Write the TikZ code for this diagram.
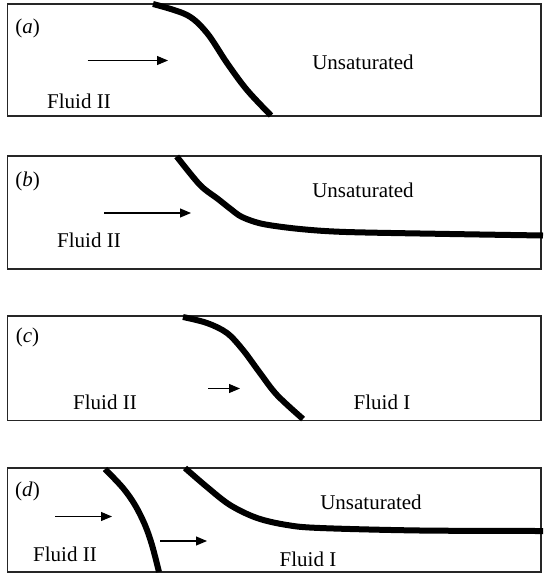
\documentclass[tikz,border=0pt]{standalone}
\usepackage{fontspec}
\setmainfont{Liberation Serif}
\usetikzlibrary{arrows.meta}
\begin{document}
\begin{tikzpicture}[x=0.5pt,y=-0.5pt,
  panel/.style={draw=black!85,line width=0.6pt},
  front/.style={line width=3pt,black},
  flow/.style={line width=0.55pt,-{Triangle[length=5.5pt,width=4.5pt]}},
  lbl/.style={font=\fontsize{10.5pt}{12pt}\selectfont,inner sep=0pt,anchor=base}]
\useasboundingbox (0,0) rectangle (543,574);
% panels
\draw[panel] (7.5,4) rectangle (541,116);
\draw[panel] (7.5,156) rectangle (541,269);
\draw[panel] (7.5,316) rectangle (541,420.5);
\draw[panel] (7.5,468) rectangle (541,572);
% (a)
\node[lbl] (la) at (27.5,33) {(\textit{a})};
\node[lbl] (ua) at (363,69) {Unsaturated};
\node[lbl] (fa) at (79,108) {Fluid II};
\coordinate (a1) at (87.5,60.5); \coordinate (a2) at (168,60.5);
\draw[flow] (a1) -- (a2);
\draw[front] plot[smooth,tension=0.55] coordinates {(153,4) (187,15) (207,33) (227,63) (247,90) (271,115.5)};
% (b)
\node[lbl] (lb) at (27.5,186) {(\textit{b})};
\node[lbl] (ub) at (363,197.5) {Unsaturated};
\node[lbl] (fb) at (89,247.5) {Fluid II};
\coordinate (b1) at (104,213); \coordinate (b2) at (191,213);
\draw[flow] (b1) -- (b2);
\draw[front] plot[smooth,tension=0.5] coordinates {(176.7,156.5) (200,185) (218,199) (230,208.5) (242,217) (263,224) (300,229) (346,232) (450,234) (543,235.5)};
% (c)
\node[lbl] (lc) at (27.5,342) {(\textit{c})};
\node[lbl] (fc1) at (105,409.5) {Fluid II};
\node[lbl] (fc2) at (382,409.5) {Fluid I};
\coordinate (c1) at (208,388.5); \coordinate (c2) at (240,388.5);
\draw[flow] (c1) -- (c2);
\draw[front] plot[smooth,tension=0.55] coordinates {(183,317) (207,323) (227,333) (243,350) (260,373) (277,395) (303,419)};
% (d)
\node[lbl] (ld) at (27.5,496) {(\textit{d})};
\node[lbl] (ud) at (371,509) {Unsaturated};
\node[lbl] (fd1) at (65,561.5) {Fluid II};
\node[lbl] (fd2) at (308,566) {Fluid I};
\coordinate (d1) at (55,516.5); \coordinate (d2) at (112,516.5);
\draw[flow] (d1) -- (d2);
\coordinate (d3) at (160,541); \coordinate (d4) at (207,541);
\draw[flow] (d3) -- (d4);
\draw[front] plot[smooth,tension=0.55] coordinates {(105,469) (123,488) (135,505) (145,525) (152,545) (159,572)};
\draw[front] plot[smooth,tension=0.55] coordinates {(185,468) (207,487) (230,505) (257,518) (287,525) (320,528) (420,530.5) (543,531)};
\end{tikzpicture}
\end{document}
